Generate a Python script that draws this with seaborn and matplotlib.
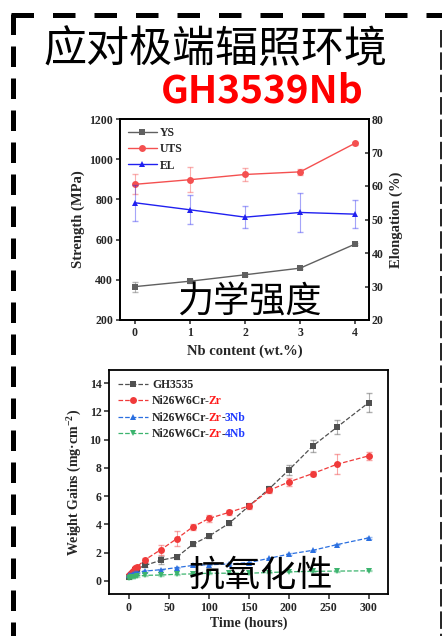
import numpy as np
import pandas as pd
import matplotlib
matplotlib.use("Agg")
import matplotlib.pyplot as plt
import seaborn as sns
from matplotlib.lines import Line2D

# ---------------- data ----------------
nb_content = [0, 1, 2, 3, 4]
ys = [366, 393, 425, 458, 578]
ys_err = [25, 10, 8, 6, 6]
uts = [875, 898, 924, 937, 1080]
uts_err = [50, 62, 32, 15, 8]
el = [55.0, 52.9, 50.7, 52.1, 51.6]
el_err = [5.4, 4.3, 3.2, 5.7, 4.1]

time_h = [0, 3, 5, 8, 10, 20, 40, 60, 80, 100, 125, 150, 175, 200, 230, 260, 300]
gh3535 = [0.3, 0.45, 0.6, 0.75, 0.85, 1.1, 1.47, 1.7, 2.6, 3.17, 4.07, 5.3, 6.5, 7.85, 9.55, 10.87, 12.62]
gh3535_err = [0.05, 0.05, 0.05, 0.05, 0.05, 0.1, 0.3, 0.15, 0.1, 0.1, 0.1, 0.15, 0.2, 0.35, 0.45, 0.5, 0.65]
zr = [0.4, 0.55, 0.7, 0.9, 1.0, 1.5, 2.22, 3.0, 3.83, 4.42, 4.85, 5.3, 6.4, 7.0, 7.6, 8.25, 8.85]
zr_err = [0.05, 0.05, 0.1, 0.1, 0.1, 0.15, 0.35, 0.5, 0.2, 0.25, 0.2, 0.2, 0.15, 0.25, 0.2, 0.7, 0.3]
zr3nb = [0.4, 0.45, 0.5, 0.55, 0.6, 0.7, 0.8, 0.95, 1.1, 1.15, 1.2, 1.3, 1.6, 1.9, 2.17, 2.57, 3.05]
zr3nb_err = [0.05] * 17
zr4nb = [0.2, 0.25, 0.3, 0.3, 0.35, 0.4, 0.42, 0.48, 0.5, 0.55, 0.55, 0.55, 0.6, 0.65, 0.68, 0.7, 0.72]
zr4nb_err = [0.04] * 17

strength_ticks = [200, 400, 600, 800, 1000, 1200]
elong_ticks = [20, 30, 40, 50, 60, 70, 80]
time_ticks = [0, 50, 100, 150, 200, 250, 300]
gain_ticks = [0, 2, 4, 6, 8, 10, 12, 14]

# ---------------- style ----------------
sns.set_style("ticks")
plt.rcParams["font.family"] = ["Liberation Serif", "DejaVu Serif"]
plt.rcParams["font.weight"] = "bold"
plt.rcParams["axes.labelweight"] = "bold"
plt.rcParams["mathtext.fontset"] = "custom"
plt.rcParams["mathtext.rm"] = "Liberation Serif:bold"
plt.rcParams["mathtext.bf"] = "Liberation Serif:bold"
plt.rcParams["mathtext.default"] = "bf"

CJK = ["Noto Sans CJK SC", "DejaVu Sans"]
SERIF = ["Liberation Serif", "DejaVu Serif"]

fig = plt.figure(figsize=(4.42, 6.36), dpi=100)

# ---------------- top chart ----------------
ax1 = fig.add_axes([120 / 442, 1 - 320 / 636, 249 / 442, 201 / 636])
ax2 = ax1.twinx()

c_ys, c_uts, c_el = "#606060", "#f45050", "#2020f0"
ax1.errorbar(nb_content, ys, yerr=ys_err, fmt="none", ecolor=c_ys, alpha=0.45, lw=0.8, capsize=2)
ax1.errorbar(nb_content, uts, yerr=uts_err, fmt="none", ecolor=c_uts, alpha=0.45, lw=0.8, capsize=2)
ax2.errorbar(nb_content, el, yerr=el_err, fmt="none", ecolor=c_el, alpha=0.4, lw=0.8, capsize=2)
sns.lineplot(x=nb_content, y=ys, ax=ax1, color=c_ys, marker="s", markersize=4,
             linewidth=1.0, markeredgewidth=0, label="YS")
sns.lineplot(x=nb_content, y=uts, ax=ax1, color=c_uts, marker="o", markersize=5,
             linewidth=1.0, markeredgewidth=0, label="UTS")
sns.lineplot(x=nb_content, y=el, ax=ax2, color=c_el, marker="^", markersize=5,
             linewidth=1.0, markeredgewidth=0, label="EL")

ax1.set_xlim(-0.27, 4.25)
ax1.set_ylim(200, 1200)
ax2.set_ylim(20, 80)
ax1.set_xticks(nb_content)
ax1.set_yticks(strength_ticks)
ax2.set_yticks(elong_ticks)
ax1.set_xlabel("Nb content (wt.%)", fontsize=10.5, fontweight="bold", labelpad=4)
ax1.set_ylabel("Strength (MPa)", fontsize=10.5, fontweight="bold", labelpad=3)
ax2.set_ylabel("Elongation (%)", fontsize=10.5, fontweight="bold", labelpad=4)
for a in (ax1, ax2):
    for s in a.spines.values():
        s.set_linewidth(1.3)
        s.set_color("black")
        s.set_visible(True)
ax1.tick_params(axis="both", direction="out", length=3, width=1.1, labelsize=8.5, pad=2)
ax2.tick_params(axis="y", direction="in", length=3, width=1.1, labelsize=8.5, pad=2)
for lab in ax1.get_xticklabels() + ax1.get_yticklabels() + ax2.get_yticklabels():
    lab.set_fontweight("bold")

h1, l1 = ax1.get_legend_handles_labels()
h2, l2 = ax2.get_legend_handles_labels()
if ax2.get_legend():
    ax2.get_legend().remove()
leg1 = ax1.legend(h1 + h2, l1 + l2, loc="upper left", frameon=False,
                  prop={"family": SERIF, "weight": "bold", "size": 8.5},
                  handlelength=2.4, labelspacing=0.35, borderaxespad=0.3,
                  handletextpad=0.3, bbox_to_anchor=(0.0, 1.0))

ax1.text(0.52, 0.0, "力学强度", transform=ax1.transAxes, ha="center", va="bottom",
         fontsize=26, family=CJK, fontweight="normal", color="black", zorder=10)

# ---------------- bottom chart ----------------
ax3 = fig.add_axes([109 / 442, 1 - 594 / 636, 279 / 442, 224 / 636])
series = [
    ("GH3535", gh3535, gh3535_err, "#505050", "s", 4.5),
    ("Ni26W6Cr-Zr", zr, zr_err, "#f03a3a", "o", 5),
    ("Ni26W6Cr-Zr-3Nb", zr3nb, zr3nb_err, "#2a6fe0", "^", 5),
    ("Ni26W6Cr-Zr-4Nb", zr4nb, zr4nb_err, "#3cb46e", "v", 5),
]
for name, vals, errs, col, mk, ms in series:
    ax3.errorbar(time_h, vals, yerr=errs, fmt="none", ecolor=col, alpha=0.45, lw=0.8, capsize=2)
    sns.lineplot(x=time_h, y=vals, ax=ax3, color=col, marker=mk, markersize=ms,
                 linewidth=0.9, linestyle="--", markeredgewidth=0, label=name)

ax3.set_xlim(-25, 324)
ax3.set_ylim(-0.92, 14.92)
ax3.set_xticks(time_ticks)
ax3.set_yticks(gain_ticks)
ax3.set_xlabel("Time (hours)", fontsize=10, fontweight="bold", labelpad=2)
ax3.set_ylabel("Weight Gains (mg·cm$^{-2}$)", fontsize=10, fontweight="bold", labelpad=4)
for s in ax3.spines.values():
    s.set_linewidth(1.3)
    s.set_color("black")
    s.set_visible(True)
ax3.tick_params(axis="both", direction="out", length=3.5, width=1.1, labelsize=8.5, pad=2)
for lab in ax3.get_xticklabels() + ax3.get_yticklabels():
    lab.set_fontweight("bold")

h3, l3 = ax3.get_legend_handles_labels()
short = ["GH3535", "Ni26W6Cr-", "Ni26W6Cr-", "Ni26W6Cr-"]
leg_fs = 8.4
leg_prop = {"family": SERIF, "weight": "bold", "size": leg_fs}
leg3 = ax3.legend(h3, short, loc="upper left", frameon=False, prop=leg_prop,
                  handlelength=2.6, labelspacing=0.38, borderaxespad=0.35,
                  handletextpad=0.35)
leg3.set_zorder(5)
texts = leg3.get_texts()
extra = [None, [("Zr", "#ff1a1a")],
         [("Zr", "#ff1a1a"), ("-", "black"), ("3Nb", "#1f3bff")],
         [("Zr", "#ff1a1a"), ("-", "black"), ("4Nb", "#1f3bff")]]
for t, parts in zip(texts, extra):
    if not parts:
        continue
    prev = t
    for i, (s, col) in enumerate(parts):
        prev = ax3.annotate(s, xy=(1, 0), xycoords=prev,
                            xytext=(-1.2 if i == 0 else 0, 0), textcoords="offset points",
                            ha="left", va="bottom",
                            color=col, family=SERIF, fontweight="bold", fontsize=leg_fs,
                            annotation_clip=False, zorder=20)

ax3.text(0.545, 0.0, "抗氧化性", transform=ax3.transAxes, ha="center", va="bottom",
         fontsize=26, family=CJK, fontweight="normal", color="black", zorder=10)

# ---------------- titles ----------------
fig.text(215 / 442, 1 - 50 / 636, "应对极端辐照环境", ha="center", va="center",
         fontsize=31, family=CJK, fontweight="normal", color="black")
fig.text(262 / 442, 1 - 91 / 636, "GH3539Nb", ha="center", va="center",
         fontsize=28, family=CJK, fontweight="bold", color="#ff0000")

# ---------------- dashed frame ----------------
lw_frame = 3.6
fig.add_artist(Line2D([13 / 442, 13 / 442], [1 - 14 / 636, 0], transform=fig.transFigure,
                      color="black", lw=lw_frame, dashes=(4.1, 2.3), solid_capstyle="butt",
                      dash_capstyle="butt"))
fig.add_artist(Line2D([11 / 442, 1.0], [1 - 15 / 636, 1 - 15 / 636], transform=fig.transFigure,
                      color="black", lw=lw_frame, dashes=(4.5, 3.8), dash_capstyle="butt"))
fig.add_artist(Line2D([440.5 / 442, 440.5 / 442], [1 - 30 / 636, 0], transform=fig.transFigure,
                      color="#222222", lw=1.4, dashes=(9, 2.5), dash_capstyle="butt"))

fig.canvas.draw()
fig.savefig("out.png", dpi=100)
